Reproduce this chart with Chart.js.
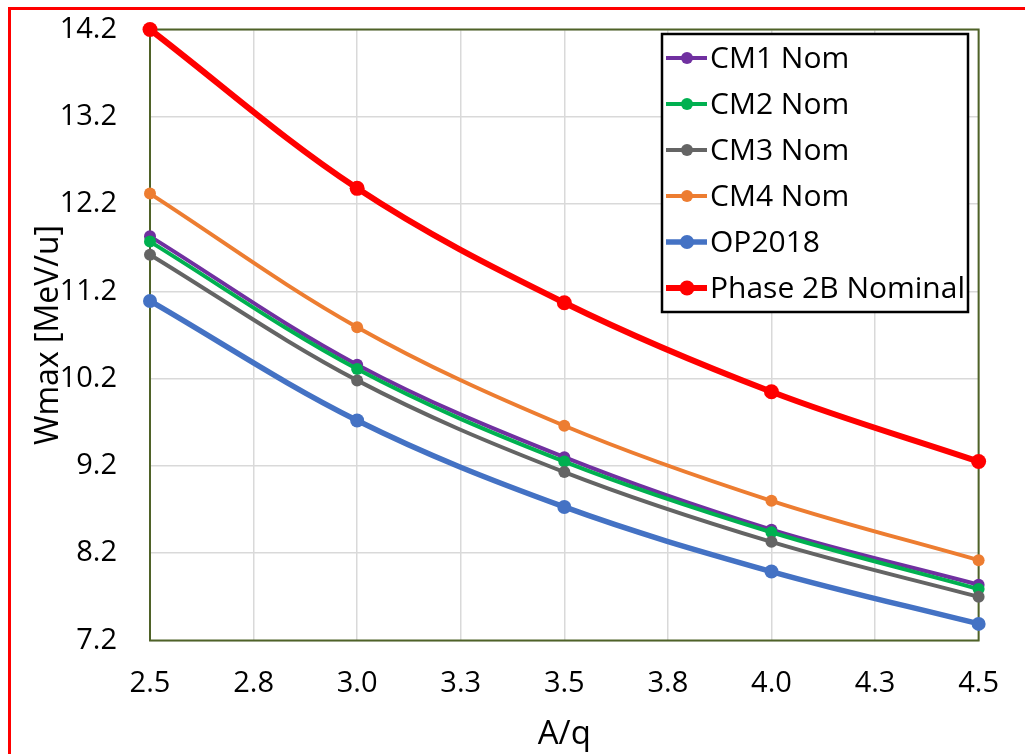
<!DOCTYPE html>
<html>
<head>
<meta charset="utf-8">
<script src="https://cdn.jsdelivr.net/npm/chart.js@4"></script>
<style>
  html, body { margin: 0; padding: 0; background: #fff; overflow: hidden; }
  canvas { display: block; }
</style>
</head>
<body>
<canvas id="chart" width="1025" height="754"></canvas>
<script>
// A/q values
const aq = [2.5, 3.0, 3.5, 4.0, 4.5];

// Wmax [MeV/u] per series
const cm1Nom = [11.83, 10.36, 9.30, 8.47, 7.84];
const cm2Nom = [11.77, 10.31, 9.25, 8.44, 7.79];
const cm3Nom = [11.62, 10.18, 9.13, 8.33, 7.70];
const cm4Nom = [12.32, 10.79, 9.66, 8.80, 8.12];
const op2018 = [11.09, 9.72, 8.73, 7.99, 7.39];
const phase2bNominal = [14.2, 12.38, 11.07, 10.05, 9.25];

const seriesNames = ["CM1 Nom", "CM2 Nom", "CM3 Nom", "CM4 Nom", "OP2018", "Phase 2B Nominal"];

// tick labels
const xTicks = [2.5, 2.75, 3.0, 3.25, 3.5, 3.75, 4.0, 4.25, 4.5];
const xTickLabels = ["2.5", "2.8", "3.0", "3.3", "3.5", "3.8", "4.0", "4.3", "4.5"];
const yTicks = [7.2, 8.2, 9.2, 10.2, 11.2, 12.2, 13.2, 14.2];
const yTickLabels = ["7.2", "8.2", "9.2", "10.2", "11.2", "12.2", "13.2", "14.2"];

const FONT = "'Open Sans', 'DejaVu Sans', sans-serif";

const styles = [
  { color: "#7030a0", width: 4, radius: 6 },
  { color: "#00b050", width: 4, radius: 6 },
  { color: "#646464", width: 4, radius: 6 },
  { color: "#ed7d31", width: 4, radius: 6 },
  { color: "#4472c4", width: 5.5, radius: 7 },
  { color: "#ff0000", width: 6, radius: 7.5 },
];

const allValues = [cm1Nom, cm2Nom, cm3Nom, cm4Nom, op2018, phase2bNominal];

const datasets = allValues.map((vals, i) => ({
  label: seriesNames[i],
  data: vals.map((y, j) => ({ x: aq[j], y: y })),
  borderColor: styles[i].color,
  backgroundColor: styles[i].color,
  borderWidth: styles[i].width,
  pointRadius: styles[i].radius,
  pointHoverRadius: styles[i].radius,
  pointBorderWidth: 0,
  tension: 0.35,
  clip: false,
  order: allValues.length - i, // later series drawn on top
}));

// page frame, plot frame and legend box
const frameAndLegend = {
  id: "frameAndLegend",
  beforeDraw(chart) {
    const ctx = chart.ctx;
    ctx.save();
    ctx.fillStyle = "#fff";
    ctx.fillRect(0, 0, chart.width, chart.height);
    // red frame, left and top only
    ctx.fillStyle = "#ff0000";
    ctx.fillRect(8, 7, chart.width - 8, 3);
    ctx.fillRect(8, 7, 3, chart.height - 7);
    ctx.restore();
  },
  beforeDatasetsDraw(chart) {
    const { ctx, chartArea: a } = chart;
    ctx.save();
    ctx.strokeStyle = "#4f6228";
    ctx.lineWidth = 2;
    ctx.strokeRect(a.left, a.top, a.right - a.left, a.bottom - a.top);
    ctx.restore();
  },
  afterDraw(chart) {
    const ctx = chart.ctx;
    const box = { x: 662, y: 34, w: 306, h: 278 };
    ctx.save();
    ctx.fillStyle = "#fff";
    ctx.fillRect(box.x, box.y, box.w, box.h);
    ctx.strokeStyle = "#000";
    ctx.lineWidth = 2.5;
    ctx.strokeRect(box.x, box.y, box.w, box.h);
    ctx.font = "30px " + FONT;
    ctx.textBaseline = "middle";
    ctx.textAlign = "left";
    chart.data.datasets.forEach((ds, i) => {
      const y = 58 + i * 46;
      ctx.strokeStyle = ds.borderColor;
      ctx.lineWidth = ds.borderWidth;
      ctx.beginPath();
      ctx.moveTo(666, y);
      ctx.lineTo(707, y);
      ctx.stroke();
      ctx.fillStyle = ds.borderColor;
      ctx.beginPath();
      ctx.arc(687, y, ds.pointRadius, 0, Math.PI * 2);
      ctx.fill();
      ctx.fillStyle = "#000";
      ctx.fillText(ds.label, 710, y + 1);
    });
    ctx.restore();
  },
};

new Chart(document.getElementById("chart"), {
  type: "line",
  data: { datasets: datasets },
  plugins: [frameAndLegend],
  options: {
    responsive: false,
    animation: false,
    layout: { padding: { left: 12, top: 29.5, right: 45, bottom: 0 } },
    plugins: {
      legend: { display: false },
      tooltip: { enabled: false },
    },
    scales: {
      x: {
        type: "linear",
        min: 2.5,
        max: 4.5,
        afterBuildTicks: (s) => { s.ticks = xTicks.map((v) => ({ value: v })); },
        afterFit: (s) => { s.height = 113.5; },
        grid: { color: "#d9d9d9", lineWidth: 1.5, drawTicks: false },
        border: { display: false },
        ticks: {
          padding: 26,
          color: "#000",
          font: { family: FONT, size: 29 },
          maxRotation: 0,
          autoSkip: false,
          callback: (v, i) => xTickLabels[i],
        },
        title: {
          display: true,
          text: "A/q",
          color: "#000",
          font: { family: FONT, size: 33 },
          padding: { top: 0, bottom: 0 },
        },
      },
      y: {
        type: "linear",
        min: 7.2,
        max: 14.2,
        afterBuildTicks: (s) => { s.ticks = yTicks.map((v) => ({ value: v })); },
        afterFit: (s) => {
          s.width = 138;
          s.paddingTop = 0;
          s.paddingBottom = 0;
        },
        grid: { color: "#d9d9d9", lineWidth: 1.5, drawTicks: false },
        border: { display: false },
        ticks: {
          padding: 33,
          color: "#000",
          font: { family: FONT, size: 29 },
          autoSkip: false,
          callback: (v, i) => yTickLabels[i],
        },
        title: {
          display: true,
          text: "Wmax [MeV/u]",
          color: "#000",
          font: { family: FONT, size: 32 },
          padding: { top: 18, bottom: 0 },
        },
      },
    },
  },
});
</script>
</body>
</html>
